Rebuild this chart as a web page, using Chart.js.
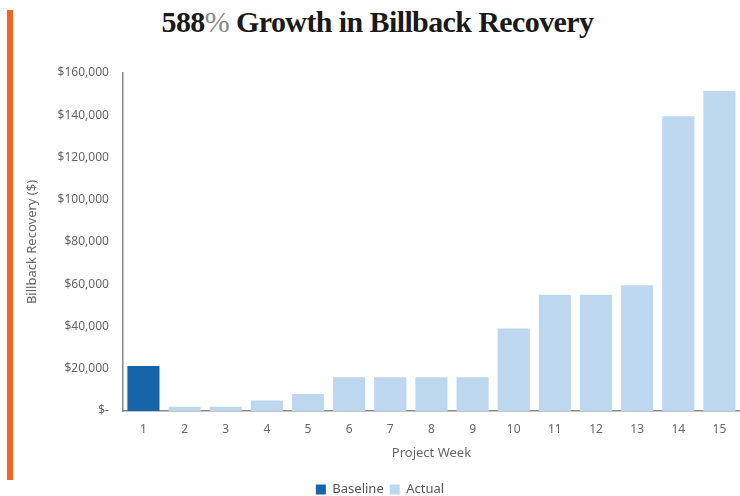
<!DOCTYPE html>
<html><head><meta charset="utf-8">
<script src="https://cdn.jsdelivr.net/npm/chart.js@4.4.1/dist/chart.umd.min.js"></script>
<style>
html,body{margin:0;padding:0;background:#fff;width:740px;height:496px;overflow:hidden;}
#bar{position:absolute;left:7px;top:10px;width:6px;height:470px;background:#f26522;}
#title{position:absolute;left:15px;right:0;top:5px;text-align:center;font-family:"Liberation Serif","DejaVu Serif",serif;font-weight:bold;font-size:30px;color:#1a1a1a;letter-spacing:-0.6px;}
#title .pct{font-weight:normal;color:#888;}
#wrap{position:absolute;left:15px;top:50px;width:725px;height:456px;}
</style></head>
<body>
<div id="bar"></div>
<div id="title">588<span class="pct">%</span> Growth in Billback Recovery</div>
<div id="wrap"><canvas id="c"></canvas></div>
<script>
const weeks = ["1","2","3","4","5","6","7","8","9","10","11","12","13","14","15"];
const baseline = [21300,null,null,null,null,null,null,null,null,null,null,null,null,null,null];
const actual = [null,2000,2000,5000,8000,16000,16000,16000,16000,39000,55000,55000,59500,139500,151500];
const yTicks = [0,20000,40000,60000,80000,100000,120000,140000,160000];

const font = {family:"'Noto Sans','Open Sans',sans-serif", size:12};
new Chart(document.getElementById('c'), {
  type:'bar',
  data:{labels:weeks, datasets:[
    {label:'Baseline', data:baseline, backgroundColor:'#1565a8', grouped:false, barPercentage:0.78, categoryPercentage:1.0},
    {label:'Actual', data:actual, backgroundColor:'#bdd7ee', grouped:false, barPercentage:0.78, categoryPercentage:1.0}
  ]},
  options:{
    responsive:true, maintainAspectRatio:false, animation:false,
    layout:{padding:{top:23,right:0,left:5,bottom:0}},
    plugins:{
      legend:{position:'bottom', labels:{boxWidth:10, boxHeight:10, color:'#555', font:{family:font.family,size:13}, padding:6}},
      tooltip:{enabled:false}
    },
    scales:{
      x:{grid:{display:false, drawTicks:false}, border:{display:true,color:'#888',width:1.5},
         ticks:{color:'#666', font:font, padding:11},
         title:{display:true, text:'Project Week', color:'#666', font:{family:font.family,size:13}, padding:{top:-2,bottom:16}}},
      y:{min:0, max:160000, grid:{display:false, drawTicks:false}, border:{display:true,color:'#888',width:1.5},
         afterBuildTicks:(ax)=>{ax.ticks = yTicks.map(v=>({value:v}));},
         ticks:{color:'#666', font:font, padding:14,
           callback:(v)=> v===0 ? '$-' : '$' + v.toLocaleString('en-US')},
         title:{display:true, text:'Billback Recovery ($)', color:'#666', font:{family:font.family,size:13}, padding:{bottom:4}}}
    }
  }
});
</script>
</body></html>
